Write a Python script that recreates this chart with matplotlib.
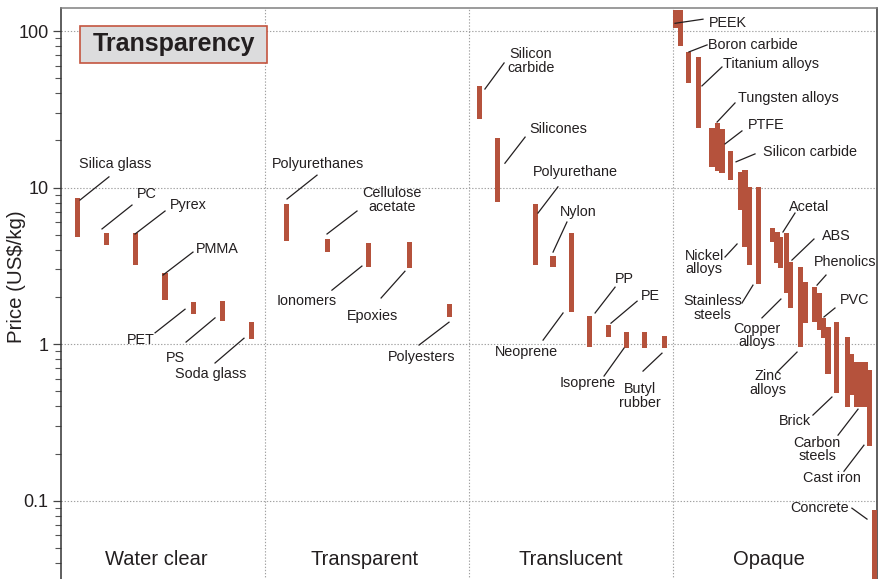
import matplotlib
matplotlib.use("Agg")
import matplotlib.pyplot as plt
from matplotlib.patches import Rectangle
from matplotlib.ticker import FixedLocator, LogLocator, NullFormatter

plt.rcParams['font.family'] = ['Liberation Sans', 'DejaVu Sans']

# price ranges (US$/kg), positions along the transparency axis (0-4)
water_x = [0.081, 0.221, 0.365, 0.510, 0.650, 0.792, 0.934]
water_lo = [4.8, 4.3, 3.2, 1.91, 1.55, 1.40, 1.08]
water_hi = [8.6, 5.14, 5.1, 2.83, 1.85, 1.89, 1.38]

trans_x = [1.105, 1.306, 1.507, 1.708, 1.904]
trans_lo = [4.57, 3.85, 3.12, 3.05, 1.48]
trans_hi = [7.86, 4.69, 4.4, 4.47, 1.80]

transl_x = [2.051, 2.140, 2.324, 2.412, 2.502, 2.591, 2.684, 2.772, 2.860, 2.958]
transl_lo = [27.3, 8.03, 3.2, 3.09, 1.61, 0.96, 1.11, 0.95, 0.95, 0.95]
transl_hi = [44.6, 20.6, 7.86, 3.65, 5.14, 1.52, 1.32, 1.2, 1.2, 1.12]

opaque_x = [3.012, 3.037, 3.078, 3.125, 3.191, 3.216, 3.240, 3.284, 3.331, 3.353,
            3.375, 3.419, 3.488, 3.510, 3.529, 3.556, 3.578, 3.625, 3.647, 3.694,
            3.716, 3.738, 3.760, 3.801, 3.855, 3.877, 3.900, 3.922, 3.941, 3.963, 3.988]
opaque_lo = [104, 80.5, 46.4, 24.1, 13.5, 12.7, 12.3, 11.2, 7.2, 4.19,
             3.2, 2.42, 4.47, 3.3, 3.06, 2.12, 1.69, 0.957, 1.36, 1.38,
             1.23, 1.09, 0.64, 0.486, 0.395, 0.472, 0.395, 0.395, 0.395, 0.222, 0.03]
opaque_hi = [136, 136, 73.8, 68.5, 24.0, 25.7, 23.7, 17.1, 12.6, 12.9,
             10.1, 10.1, 5.5, 5.2, 4.83, 5.12, 3.34, 3.1, 2.49, 2.31,
             2.12, 1.47, 1.29, 1.38, 1.11, 0.863, 0.767, 0.767, 0.767, 0.683, 0.087]

categories = ["Water clear", "Transparent", "Translucent", "Opaque"]
cat_x = [0.466, 1.49, 2.5, 3.47]

# label text, text x, text y, alignment, leader start (x, y), leader end (x, y)
labels = [
    ("Silica glass", 0.088, 14.1, "left", 0.093, 8.32, 0.235, 11.7),
    ("PC", 0.373, 9.08, "left", 0.201, 5.44, 0.348, 7.73),
    ("Pyrex", 0.534, 7.73, "left", 0.363, 5.05, 0.510, 7.08),
    ("PMMA", 0.662, 4.05, "left", 0.5, 2.76, 0.647, 3.87),
    ("PET", 0.324, 1.06, "left", 0.461, 1.18, 0.608, 1.67),
    ("PS", 0.515, 0.814, "left", 0.613, 1.03, 0.755, 1.47),
    ("Soda glass", 0.559, 0.643, "left", 0.755, 0.757, 0.897, 1.09),
    ("Polyurethanes", 1.034, 14.1, "left", 1.108, 8.45, 1.255, 12.0),
    ("Cellulose\nacetate", 1.623, 8.32, "center", 1.304, 5.05, 1.451, 7.08),
    ("Ionomers", 1.206, 1.88, "center", 1.328, 2.21, 1.475, 3.15),
    ("Epoxies", 1.525, 1.51, "center", 1.569, 1.97, 1.686, 2.92),
    ("Polyesters", 1.770, 0.826, "center", 1.755, 0.986, 1.902, 1.38),
    ("Silicon\ncarbide", 2.304, 64.3, "center", 2.078, 42.6, 2.172, 62.5),
    ("Silicones", 2.436, 23.6, "center", 2.176, 14.3, 2.275, 21.0),
    ("Polyurethane", 2.520, 12.6, "center", 2.338, 6.87, 2.436, 10.1),
    ("Nylon", 2.534, 6.97, "center", 2.412, 3.87, 2.480, 6.02),
    ("Neoprene", 2.284, 0.889, "center", 2.363, 1.06, 2.461, 1.58),
    ("PP", 2.760, 2.60, "center", 2.618, 1.58, 2.716, 2.31),
    ("PE", 2.887, 2.03, "center", 2.696, 1.36, 2.824, 1.88),
    ("Isoprene", 2.583, 0.564, "center", 2.662, 0.625, 2.760, 0.943),
    ("Butyl\nrubber", 2.838, 0.466, "center", 2.853, 0.672, 2.946, 0.875),
    ("PEEK", 3.176, 112, "left", 3.010, 112, 3.147, 119),
    ("Boron carbide", 3.172, 81.5, "left", 3.078, 73.5, 3.167, 81.5),
    ("Titanium alloys", 3.245, 61.6, "left", 3.142, 44.6, 3.240, 58.9),
    ("Tungsten alloys", 3.319, 37.3, "left", 3.216, 26.2, 3.304, 34.7),
    ("PTFE", 3.368, 25.1, "left", 3.255, 19.0, 3.338, 23.0),
    ("Silicon carbide", 3.441, 16.9, "left", 3.309, 14.6, 3.402, 16.4),
    ("Acetal", 3.569, 7.50, "left", 3.539, 5.20, 3.598, 6.87),
    ("ABS", 3.730, 4.90, "left", 3.583, 3.44, 3.691, 4.69),
    ("Phenolics", 3.691, 3.34, "left", 3.706, 2.38, 3.750, 2.76),
    ("PVC", 3.819, 1.91, "left", 3.740, 1.49, 3.794, 1.70),
    ("Nickel\nalloys", 3.152, 3.30, "center", 3.255, 3.60, 3.314, 4.36),
    ("Stainless\nsteels", 3.196, 1.70, "center", 3.338, 1.83, 3.392, 2.38),
    ("Copper\nalloys", 3.412, 1.14, "center", 3.436, 1.47, 3.529, 1.94),
    ("Zinc\nalloys", 3.466, 0.564, "center", 3.510, 0.662, 3.608, 0.889),
    ("Brick", 3.598, 0.322, "center", 3.686, 0.352, 3.779, 0.459),
    ("Carbon\nsteels", 3.706, 0.213, "center", 3.809, 0.262, 3.907, 0.384),
    ("Cast iron", 3.779, 0.139, "center", 3.838, 0.154, 3.936, 0.226),
    ("Concrete", 3.716, 0.0895, "center", 3.877, 0.0895, 3.951, 0.0762),
]

bar_color = "#b5523c"
text_color = "#231f20"
grid_color = "#a0a0a0"

fig = plt.figure(figsize=(8.84, 5.79), dpi=100)
ax = fig.add_axes([61 / 884, -0.006, 816 / 884, 0.9922])
ax.set_yscale("log")
ax.set_xlim(0, 4)
ax.set_ylim(0.03, 140.3)

for xs, lo, hi in [(water_x, water_lo, water_hi), (trans_x, trans_lo, trans_hi),
                   (transl_x, transl_lo, transl_hi), (opaque_x, opaque_lo, opaque_hi)]:
    heights = [h - l for h, l in zip(hi, lo)]
    ax.bar(xs, heights, bottom=lo, width=0.025, color=bar_color, zorder=3)

# grid
for v in [0.1, 1, 10, 100]:
    ax.axhline(v, color=grid_color, lw=0.8, ls=(0, (1.2, 1.6)), zorder=1)
for v in [1, 2, 3]:
    ax.axvline(v, color=grid_color, lw=0.8, ls=(0, (1.2, 1.6)), zorder=1)

for name, tx, ty, ha, x0, y0, x1, y1 in labels:
    ax.plot([x0, x1], [y0, y1], color=text_color, lw=0.9, zorder=4)
    ax.text(tx, ty, name, ha=ha, va="center", fontsize=10.4, color=text_color,
            linespacing=0.92, zorder=5)

for name, cx in zip(categories, cat_x):
    ax.text(cx, 0.042, name, ha="center", va="center", fontsize=14.5, color=text_color)

# title box
ax.add_patch(Rectangle((0.0233, 0.9043), 0.2292, 0.0644, transform=ax.transAxes,
                       facecolor="#dcdcdd", edgecolor="#c4553f", lw=1.2, zorder=6))
ax.text(0.1379, 0.9365, "Transparency", transform=ax.transAxes, ha="center", va="center",
        fontsize=18, fontweight="bold", color=text_color, zorder=7)

ax.yaxis.set_major_locator(FixedLocator([0.1, 1, 10, 100]))
ax.set_yticklabels(["0.1", "1", "10", "100"])
ax.yaxis.set_minor_locator(LogLocator(base=10, subs=range(2, 10)))
ax.yaxis.set_minor_formatter(NullFormatter())
ax.tick_params(axis="y", which="major", direction="out", length=6, width=0.9,
               labelsize=13, colors="#444444", labelcolor=text_color, pad=3)
ax.tick_params(axis="y", which="minor", direction="out", length=4, width=0.8, colors="#555555")
ax.set_xticks([])
ax.set_ylabel("Price (US$/kg)", fontsize=14.7, color=text_color)
ax.yaxis.set_label_coords(-0.043, 0.533)

for side in ["left", "right"]:
    ax.spines[side].set_color("#333333")
    ax.spines[side].set_linewidth(1.1)
ax.spines["top"].set_color("#808080")
ax.spines["top"].set_linewidth(1.1)
ax.spines["bottom"].set_visible(False)

fig.savefig("out.png", dpi=100)
